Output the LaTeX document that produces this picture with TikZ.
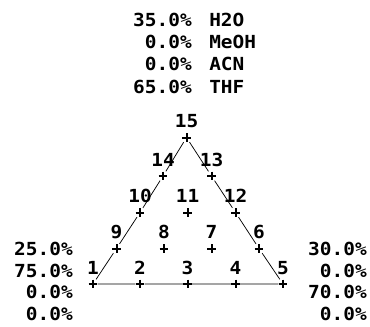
\documentclass[tikz,border=0pt]{standalone}
\usepackage{fontspec}
\newfontfamily\plotfont[FakeStretch=1.08]{DejaVu Sans Mono}
\usetikzlibrary{positioning}
\tikzset{every node/.style={font={\plotfont\bfseries\fontsize{13.5pt}{16pt}\selectfont}},
 txt/.style={inner sep=0pt},
 plusmark/.style={inner sep=0pt,minimum size=6.6pt,
  path picture={\draw[line width=1.5pt] (path picture bounding box.north)--(path picture bounding box.south)
   (path picture bounding box.west)--(path picture bounding box.east);}},
 every label/.style={inner sep=0pt},
 edge/.style={line width=0.55pt}}
\begin{document}
\begin{tikzpicture}[x=0.75pt,y=-0.75pt]
\useasboundingbox (0,0) rectangle (370,326);
% mixture at the apex, then the two lower corners
\foreach \v/\s [count=\i] in {35.0/H2O,0.0/MeOH,0.0/ACN,65.0/THF}{
 \node[txt,anchor=base east] (pct\i) at (192,4+22.3*\i) {\v\%};
 \node[txt,anchor=base west] (sol\i) at (209,4+22.3*\i) {\s};
}
\foreach \v [count=\i] in {25.0,75.0,0.0,0.0}
 \node[txt,anchor=base east] (left\i) at (73,234+21.5*\i) {\v\%};
\foreach \v [count=\i] in {30.0,0.0,70.0,0.0}
 \node[txt,anchor=base east] (right\i) at (367,234+21.5*\i) {\v\%};
% the fifteen run points
\foreach \n/\x/\y in {1/93/284,2/140/284,3/187.5/284,4/235.5/284,5/283/284,
 9/116.5/248.5,8/164/248.5,7/211.5/248.5,6/259/248.5,
 10/140/212.5,11/187.5/212.5,12/235.5/212.5,
 14/163/176,13/211.5/176,15/186.5/137.5}
 \node[plusmark,label={[label distance=3.5pt]above:\n}] (p\n) at (\x,\y) {};
\draw[edge] (p1)--(p9)--(p10)--(p14)--(p15)--(p13)--(p12)--(p6)--(p5)--(p4)--(p3)--(p2)--(p1);
\end{tikzpicture}
\end{document}
